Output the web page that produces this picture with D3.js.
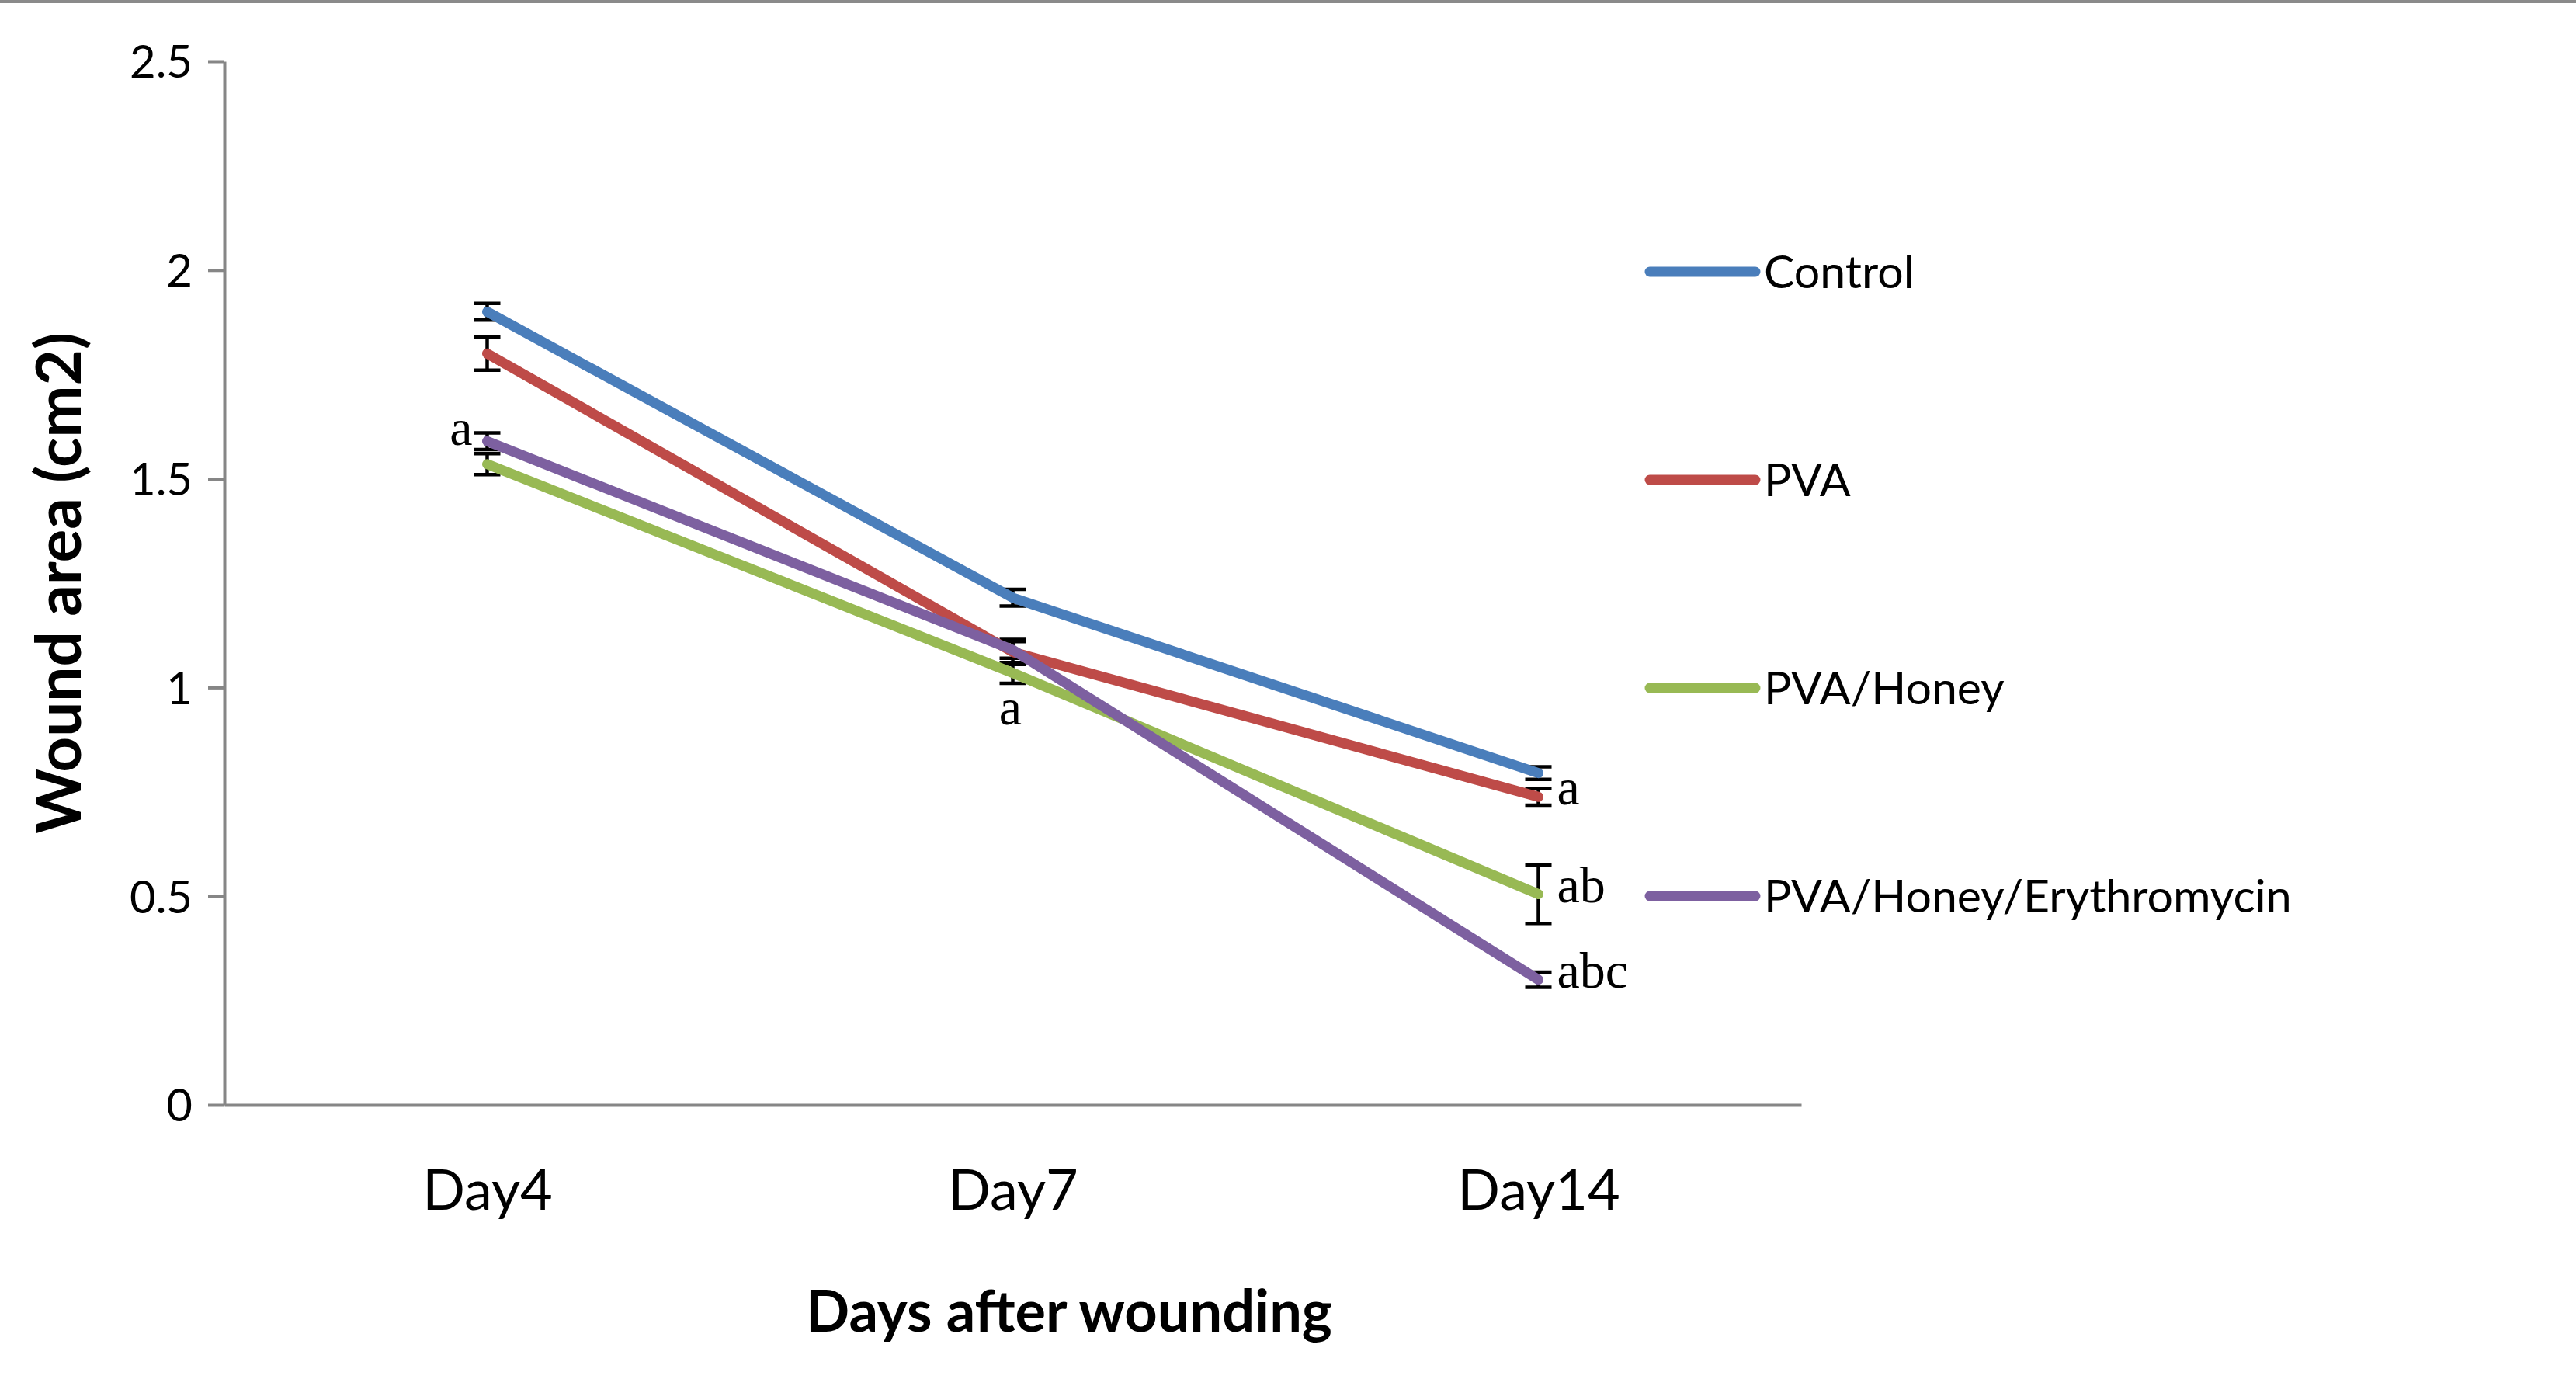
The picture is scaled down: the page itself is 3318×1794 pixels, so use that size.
<!doctype html>
<html lang="en">
<head>
  <meta charset="utf-8">
  <title>Wound area</title>
  <script src="https://d3js.org/d3.v7.min.js"></script>
  <style>
    body { margin: 0; background: #fff; }
    svg { display: block; }
  </style>
</head>
<body>
  <script type="text/javascript">
    // values
    var days = ["Day4", "Day7", "Day14"];
    var seriesNames = ["Control", "PVA", "PVA/Honey", "PVA/Honey/Erythromycin"];
    var control = [1.90, 1.215, 0.795];
    var pva = [1.80, 1.085, 0.738];
    var pvaHoney = [1.535, 1.035, 0.505];
    var pvaHoneyEry = [1.59, 1.09, 0.30];
    var controlErr = [0.02, 0.02, 0.015];
    var pvaErr = [0.04, 0.03, 0.02];
    var pvaHoneyErr = [0.025, 0.025, 0.07];
    var pvaHoneyEryErr = [0.02, 0.02, 0.018];
    var yTicks = [0, 0.5, 1, 1.5, 2, 2.5];

    // significance letters: series index, day index, text, where it sits
    var letterText = ["a", "a", "a", "ab", "abc"];
    var letterSeries = [3, 2, 1, 2, 3];
    var letterDay = [0, 1, 2, 2, 2];
    var letterPlace = ["left", "below", "right", "right", "right"];

    var values = [control, pva, pvaHoney, pvaHoneyEry];
    var errors = [controlErr, pvaErr, pvaHoneyErr, pvaHoneyEryErr];
    var colors = ["#4a7ebb", "#be4b48", "#98b954", "#7d60a0"];

    var width = 3318;
    var height = 1794;
    // plot area edges (note: "top" is a reserved window global, so prefix)
    var plotLeft = 289, plotRight = 2320, plotTop = 79, plotBottom = 1423;

    var svg = d3.select("body")
      .append("svg")
      .attr("width", width)
      .attr("height", height);

    // thin grey frame line at the very top of the figure
    svg.append("rect")
      .attr("x", 0).attr("y", 0)
      .attr("width", width).attr("height", 4)
      .attr("fill", "#8a8a8a");

    var x = d3.scalePoint()
      .domain(days)
      .range([plotLeft, plotRight])
      .padding(0.5);

    var y = d3.scaleLinear()
      .domain([0, 2.5])
      .range([plotBottom, plotTop]);

    // y axis
    var yAxisGroup = svg.append("g")
      .attr("transform", "translate(" + plotLeft + ",0)")
      .call(d3.axisLeft(y)
        .tickValues(yTicks)
        .tickSize(21)
        .tickSizeOuter(0)
        .tickPadding(20)
        .tickFormat(function(d) { return String(d); }));

    yAxisGroup.selectAll("path, line")
      .attr("stroke", "#868686")
      .attr("stroke-width", 4);
    yAxisGroup.selectAll("text")
      .attr("font-family", "Lato, 'Open Sans', sans-serif")
      .attr("font-size", 58)
      .attr("fill", "#000")
      .attr("dy", "0.36em");

    // x axis
    var xAxisGroup = svg.append("g")
      .attr("transform", "translate(0," + plotBottom + ")")
      .call(d3.axisBottom(x)
        .tickSize(0)
        .tickSizeOuter(0)
        .tickPadding(0));

    xAxisGroup.select(".domain")
      .attr("stroke", "#868686")
      .attr("stroke-width", 4);
    xAxisGroup.selectAll("text")
      .attr("font-family", "Lato, 'Open Sans', sans-serif")
      .attr("font-size", 72)
      .attr("fill", "#000")
      .attr("y", 135)
      .attr("dy", 0);

    // axis titles
    svg.append("text")
      .attr("x", 1377)
      .attr("y", 1715)
      .attr("text-anchor", "middle")
      .attr("font-family", "Lato, 'Open Sans', sans-serif")
      .attr("font-weight", "bold")
      .attr("font-size", 74)
      .text("Days after wounding");

    svg.append("text")
      .attr("transform", "translate(104,751) rotate(-90)")
      .attr("text-anchor", "middle")
      .attr("font-family", "Lato, 'Open Sans', sans-serif")
      .attr("font-weight", "bold")
      .attr("font-size", 80)
      .text("Wound area (cm2)");

    // error bars
    var capHalf = 17;
    values.forEach(function(vals, s) {
      var g = svg.append("g")
        .attr("stroke", "#000")
        .attr("stroke-width", 4.5);
      days.forEach(function(day, i) {
        var cx = x(day);
        var hi = y(vals[i] + errors[s][i]);
        var lo = y(vals[i] - errors[s][i]);
        g.append("line").attr("x1", cx).attr("x2", cx).attr("y1", hi).attr("y2", lo);
        g.append("line").attr("x1", cx - capHalf).attr("x2", cx + capHalf).attr("y1", hi).attr("y2", hi);
        g.append("line").attr("x1", cx - capHalf).attr("x2", cx + capHalf).attr("y1", lo).attr("y2", lo);
      });
    });

    // series lines
    var line = d3.line()
      .x(function(d, i) { return x(days[i]); })
      .y(function(d) { return y(d); });

    values.forEach(function(vals, s) {
      svg.append("path")
        .datum(vals)
        .attr("fill", "none")
        .attr("stroke", colors[s])
        .attr("stroke-width", 13)
        .attr("stroke-linejoin", "round")
        .attr("stroke-linecap", "round")
        .attr("d", line);
    });

    // significance letters
    letterText.forEach(function(t, k) {
      var s = letterSeries[k], i = letterDay[k];
      var cx = x(days[i]);
      var v = values[s][i], e = errors[s][i];
      var lx, ly, anchor;
      if (letterPlace[k] == "left") {
        lx = cx - 19; ly = y(v) + 5; anchor = "end";
      } else if (letterPlace[k] == "below") {
        lx = cx - 3; ly = y(v - e) + 53; anchor = "middle";
      } else {
        lx = cx + 24; ly = y(v) + 10; anchor = "start";
      }
      svg.append("text")
        .attr("x", lx)
        .attr("y", ly)
        .attr("text-anchor", anchor)
        .attr("font-family", "'Liberation Serif', 'Times New Roman', serif")
        .attr("font-size", 66)
        .attr("fill", "#000")
        .text(t);
    });

    // legend
    var legendX = 2125, legendTop = 350, legendStep = 268;
    seriesNames.forEach(function(name, s) {
      var ly = legendTop + s * legendStep;
      svg.append("line")
        .attr("x1", legendX).attr("x2", legendX + 136)
        .attr("y1", ly).attr("y2", ly)
        .attr("stroke", colors[s])
        .attr("stroke-width", 13)
        .attr("stroke-linecap", "round");
      svg.append("text")
        .attr("x", legendX + 147)
        .attr("y", ly)
        .attr("dy", "0.36em")
        .attr("font-family", "Lato, 'Open Sans', sans-serif")
        .attr("font-size", 59)
        .attr("fill", "#000")
        .text(name);
    });
  </script>
</body>
</html>
